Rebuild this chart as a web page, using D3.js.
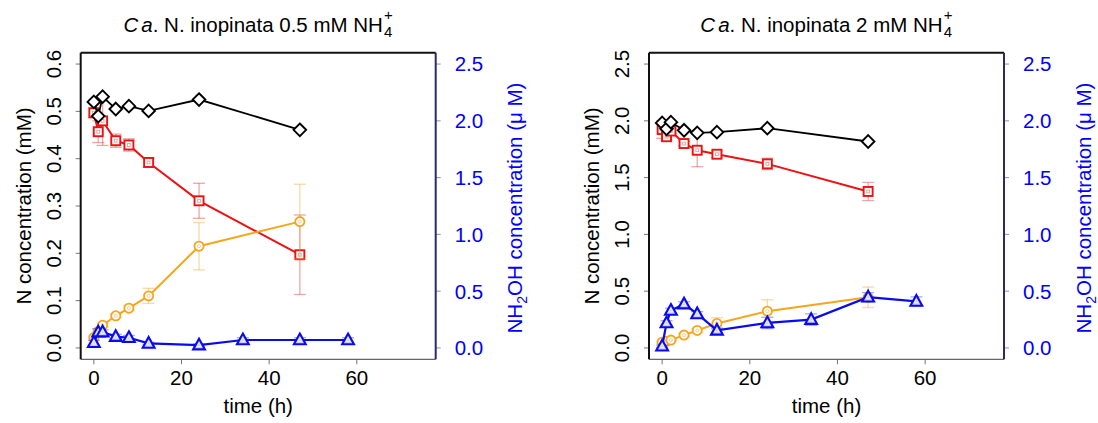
<!DOCTYPE html>
<html>
<head>
<meta charset="utf-8">
<script src="https://cdn.jsdelivr.net/npm/d3@7"></script>
<style>
  html, body { margin: 0; padding: 0; background: #fff; }
  svg { display: block; font-family: "Liberation Sans", Arial, sans-serif; }
</style>
</head>
<body>
<svg id="chart" width="1098" height="423"></svg>
<script>
// sampling times (h)
const TIME = [0, 1, 2, 5, 8, 12.5, 24, 47];
const TIME_NH2OH = [0, 1, 2, 5, 8, 12.5, 24, 34, 47, 58];
const X_TICKS = [0, 20, 40, 60];
const NH2OH_TICKS = [0, 0.5, 1, 1.5, 2, 2.5];

// panel A: 0.5 mM NH4+
const A_TOTAL = [0.520, 0.490, 0.531, 0.505, 0.511, 0.501, 0.525, 0.461];
const A_NH4 = [0.497, 0.457, 0.480, 0.438, 0.429, 0.392, 0.311, 0.197];
const A_NH4_ERR = [0.010, 0.023, 0.052, 0.014, 0.013, 0.010, 0.037, 0.084];
const A_NOX = [0.022, 0.035, 0.048, 0.068, 0.084, 0.110, 0.215, 0.267];
const A_NOX_ERR = [0.003, 0.003, 0.004, 0.004, 0.005, 0.016, 0.050, 0.079];
const A_NH2OH = [0.046, 0.14, 0.14, 0.10, 0.09, 0.04, 0.025, 0.07, 0.07, 0.07];
const A_NH2OH_ERR = [0.02, 0.03, 0.02, 0.02, 0.02, 0.01, 0.01, 0.02, 0.02, 0.02];
const A_YTICKS = [0, 0.1, 0.2, 0.3, 0.4, 0.5, 0.6];

// panel B: 2 mM NH4+
const B_TOTAL = [1.982, 1.930, 1.988, 1.917, 1.894, 1.900, 1.935, 1.818];
const B_NH4 = [1.923, 1.860, 1.910, 1.800, 1.741, 1.706, 1.621, 1.378];
const B_NH4_ERR = [0.077, 0.030, 0.020, 0.020, 0.145, 0.030, 0.050, 0.080];
const B_NOX = [0.051, 0.060, 0.069, 0.113, 0.154, 0.216, 0.324, 0.446];
const B_NOX_ERR = [0.010, 0.010, 0.010, 0.015, 0.015, 0.050, 0.100, 0.090];
const B_NH2OH = [0.015, 0.22, 0.33, 0.386, 0.30, 0.155, 0.22, 0.25, 0.447, 0.41];
const B_NH2OH_ERR = [0.01, 0.02, 0.02, 0.02, 0.02, 0.02, 0.05, 0.05, 0.04, 0.04];
const B_YTICKS = [0, 0.5, 1, 1.5, 2, 2.5];

// layout
const PLOT_TOP = 52.7;
const PLOT_BOTTOM = 359.3;
const PLOT_W = 355;
const FONT = 20.5;

const svg = d3.select("#chart");

const panels = [
  {
    left: 80.7, conc: "0.5",
    yDomain: [-0.024, 0.624], yTicks: A_YTICKS, yFmt: d3.format(".1f"),
    total: A_TOTAL, nh4: A_NH4, nh4Err: A_NH4_ERR,
    nox: A_NOX, noxErr: A_NOX_ERR, nh2oh: A_NH2OH, nh2ohErr: A_NH2OH_ERR,
  },
  {
    left: 649, conc: "2",
    yDomain: [-0.1, 2.6], yTicks: B_YTICKS, yFmt: d3.format(".1f"),
    total: B_TOTAL, nh4: B_NH4, nh4Err: B_NH4_ERR,
    nox: B_NOX, noxErr: B_NOX_ERR, nh2oh: B_NH2OH, nh2ohErr: B_NH2OH_ERR,
  },
];

panels.forEach(drawPanel);

// ---------------------------
// markers
// ---------------------------

function diamondPath(s) { return `M0,${-s}L${s},0L0,${s}L${-s},0Z`; }
function trianglePath(w, up, down) { return `M0,${-up}L${w},${down}L${-w},${down}Z`; }

function drawTitle(g, cx, conc) {
  const t = g.append("text").attr("x", 0).attr("y", 31.7).attr("font-size", FONT);
  t.append("tspan").attr("font-style", "italic").text("C");
  t.append("tspan").attr("font-style", "italic").attr("dx", 3).text("a");
  t.append("tspan").text(`. N. inopinata ${conc} mM NH`);
  const bb = t.node().getBBox();
  const w = bb.x + bb.width;
  const x0 = cx - (w + 10) / 2;
  t.attr("transform", `translate(${x0},0)`);
  g.append("text").attr("x", x0 + w + 1).attr("y", 37).attr("font-size", 15).text("4");
  g.append("text").attr("x", x0 + w + 1).attr("y", 19.5).attr("font-size", 15).text("+");
}

function drawPanel(p) {
  const g = svg.append("g");
  const right = p.left + PLOT_W;

  const x = d3.scaleLinear().domain([-3, 78]).range([p.left, right]);
  const y = d3.scaleLinear().domain(p.yDomain).range([PLOT_BOTTOM, PLOT_TOP]);
  const y2 = d3.scaleLinear().domain([-0.1, 2.6]).range([PLOT_BOTTOM, PLOT_TOP]);

  drawTitle(g, (p.left + right) / 2, p.conc);

  // x axis ticks + labels
  X_TICKS.forEach((t) => {
    g.append("line")
      .attr("x1", x(t)).attr("x2", x(t))
      .attr("y1", PLOT_BOTTOM).attr("y2", PLOT_BOTTOM + 5)
      .attr("stroke", "#777").attr("stroke-width", 1);
    g.append("text")
      .attr("x", x(t)).attr("y", 385)
      .attr("text-anchor", "middle").attr("font-size", FONT)
      .text(t);
  });
  g.append("text")
    .attr("x", (p.left + right) / 2).attr("y", 413)
    .attr("text-anchor", "middle").attr("font-size", FONT)
    .text("time (h)");

  // left axis
  p.yTicks.forEach((v) => {
    g.append("line")
      .attr("x1", p.left - 5).attr("x2", p.left)
      .attr("y1", y(v)).attr("y2", y(v))
      .attr("stroke", "#777").attr("stroke-width", 1);
    g.append("text")
      .attr("transform", `translate(${p.left - 20},${y(v)}) rotate(-90)`)
      .attr("text-anchor", "middle").attr("font-size", FONT)
      .text(p.yFmt(v));
  });
  g.append("text")
    .attr("transform", `translate(${p.left - 50},206) rotate(-90)`)
    .attr("text-anchor", "middle").attr("font-size", FONT)
    .text("N concentration (mM)");

  // right axis (NH2OH, blue)
  NH2OH_TICKS.forEach((v) => {
    g.append("line")
      .attr("x1", right).attr("x2", right + 5)
      .attr("y1", y2(v)).attr("y2", y2(v))
      .attr("stroke", "#8c8cc0").attr("stroke-width", 1);
    g.append("text")
      .attr("x", right + 19).attr("y", y2(v))
      .attr("dy", "0.36em").attr("font-size", FONT)
      .attr("fill", "#0000ff")
      .text(d3.format(".1f")(v));
  });
  const rt = g.append("text")
    .attr("transform", `translate(${right + 86.5},208) rotate(-90)`)
    .attr("text-anchor", "middle").attr("font-size", FONT)
    .attr("fill", "#0000ff");
  rt.append("tspan").text("NH");
  rt.append("tspan").attr("font-size", 14).attr("dy", 5).text("2");
  rt.append("tspan").attr("dy", -5).text("OH concentration (\u03BC M)");

  // box
  g.append("line").attr("x1", p.left).attr("x2", right).attr("y1", PLOT_BOTTOM).attr("y2", PLOT_BOTTOM)
    .attr("stroke", "#666").attr("stroke-width", 1.3);
  g.append("line").attr("x1", p.left).attr("x2", right).attr("y1", PLOT_TOP).attr("y2", PLOT_TOP)
    .attr("stroke", "#111").attr("stroke-width", 2);
  g.append("line").attr("x1", p.left).attr("x2", p.left).attr("y1", PLOT_TOP).attr("y2", PLOT_BOTTOM)
    .attr("stroke", "#111").attr("stroke-width", 2);
  g.append("line").attr("x1", right).attr("x2", right).attr("y1", PLOT_TOP).attr("y2", PLOT_BOTTOM)
    .attr("stroke", "#2a2a66").attr("stroke-width", 2);

  const series = [
    { t: TIME, v: p.nh4, err: p.nh4Err, sc: y, color: "#ee1111", errColor: "rgba(215,60,60,0.45)", width: 2, shape: "square" },
    { t: TIME, v: p.nox, err: p.noxErr, sc: y, color: "#f7a51c", errColor: "rgba(240,170,60,0.45)", width: 2, shape: "circle" },
    { t: TIME, v: p.total, err: null, sc: y, color: "#000000", width: 1.8, shape: "diamond" },
    { t: TIME_NH2OH, v: p.nh2oh, err: p.nh2ohErr, sc: y2, color: "#0a0af0", errColor: "rgba(60,60,230,0.45)", width: 2.2, shape: "triangle" },
  ];

  series.forEach((s) => drawSeries(g, s, x));
}

function drawSeries(g, s, x) {
  const pts = s.t.map((t, i) => ({ t, v: s.v[i], e: s.err ? s.err[i] : 0 }));
  const sy = s.sc;

  if (s.err) {
    const eg = g.append("g").attr("stroke", s.errColor).attr("stroke-width", 1.3).attr("fill", "none");
    pts.forEach((d) => {
      const xx = x(d.t);
      const top = sy(d.v + d.e), bot = sy(d.v - d.e);
      eg.append("line").attr("x1", xx).attr("x2", xx).attr("y1", top).attr("y2", bot);
      eg.append("line").attr("x1", xx - 6).attr("x2", xx + 6).attr("y1", top).attr("y2", top);
      eg.append("line").attr("x1", xx - 6).attr("x2", xx + 6).attr("y1", bot).attr("y2", bot);
    });
  }

  const line = d3.line().x((d) => x(d.t)).y((d) => sy(d.v));
  g.append("path")
    .datum(pts)
    .attr("d", line)
    .attr("fill", "none")
    .attr("stroke", s.color)
    .attr("stroke-width", s.width);

  const mg = g.append("g");
  pts.forEach((d) => {
    const m = mg.append("g").attr("transform", `translate(${x(d.t)},${sy(d.v)})`);
    if (s.shape === "square") {
      m.append("rect").attr("x", -4.5).attr("y", -4.5).attr("width", 9).attr("height", 9)
        .attr("fill", "#fff").attr("stroke", s.color).attr("stroke-width", 1.9);
      m.append("rect").attr("x", -1.4).attr("y", -1.4).attr("width", 2.8).attr("height", 2.8)
        .attr("fill", "none").attr("stroke", "rgba(215,60,60,0.5)").attr("stroke-width", 0.9);
    } else if (s.shape === "circle") {
      m.append("circle").attr("r", 4.6)
        .attr("fill", "#fff").attr("stroke", s.color).attr("stroke-width", 1.8);
      m.append("circle").attr("r", 1.5)
        .attr("fill", "none").attr("stroke", "rgba(240,170,60,0.6)").attr("stroke-width", 0.9);
    } else if (s.shape === "diamond") {
      m.append("path").attr("d", diamondPath(6.3))
        .attr("fill", "#fff").attr("stroke", s.color).attr("stroke-width", 1.9);
    } else {
      m.append("path").attr("d", trianglePath(5.9, 6.4, 4.3))
        .attr("fill", "#cfcfee").attr("stroke", s.color).attr("stroke-width", 2.1)
        .attr("stroke-linejoin", "miter");
      m.append("path").attr("d", trianglePath(2, 2.3, 1.4))
        .attr("fill", "none").attr("stroke", "#f4f4ff").attr("stroke-width", 0.8);
    }
  });
}
</script>
</body>
</html>
